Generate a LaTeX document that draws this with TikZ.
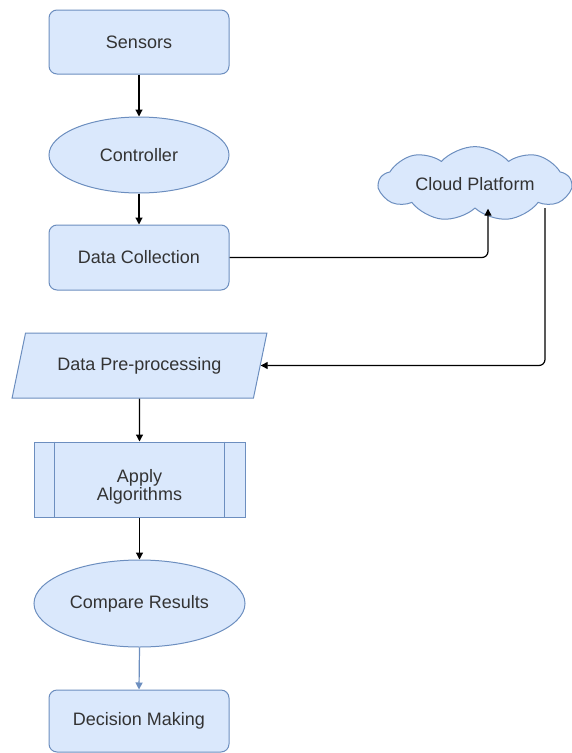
\documentclass[tikz,border=0pt]{standalone}
\usepackage{fontspec}
\setmainfont{Liberation Sans}
\usetikzlibrary{shapes.geometric,shapes.symbols,arrows.meta}
\definecolor{boxfill}{HTML}{DAE8FC}
\definecolor{boxline}{HTML}{6C8EBF}
\definecolor{txt}{HTML}{333333}
\begin{document}
\begin{tikzpicture}[x=1pt,y=-1pt,
  every node/.style={font=\fontsize{18}{21}\selectfont, text=txt, align=center},
  base/.style={draw=boxline, fill=boxfill, line width=1pt, inner sep=0pt},
  rbox/.style={base, rectangle, rounded corners=8pt, minimum width=180pt, minimum height=64pt},
  ell/.style={base, ellipse},
  arr/.style={-{Triangle[length=7pt,width=7pt]}, line width=1.2pt, black}
]
\useasboundingbox (0,0) rectangle (572,753);
\node[rbox] (sens) at (139,42) {Sensors};
\node[ell, minimum width=180pt, minimum height=76pt] (ctrl) at (139,155) {Controller};
\node[rbox, minimum height=65pt] (dc) at (139,257.5) {Data Collection};
\node[base, cloud, cloud puffs=9, cloud puff arc=95, aspect=3.2, minimum width=192pt, minimum height=62pt] (cloud) at (475,184) {Cloud Platform};
\node[base, trapezium, trapezium left angle=60, trapezium right angle=120, trapezium stretches=true, minimum width=255pt, minimum height=65pt] (pp) at (139.5,365.5) {Data Pre-processing};
\node[base, rectangle, minimum width=211pt, minimum height=75pt] (aa) at (139.5,479.5) {};
\node at (139.5,487) (aat) {Apply\\[-3pt]Algorithms};
\draw[boxline, line width=1pt] ([xshift=21pt]aa.north west) -- ([xshift=21pt]aa.south west);
\draw[boxline, line width=1pt] ([xshift=-21pt]aa.north east) -- ([xshift=-21pt]aa.south east);
\node[ell, minimum width=211pt, minimum height=87pt] (cmp) at (139.5,603.5) {Compare Results};
\node[rbox, minimum height=62pt] (dm) at (139,721) {Decision Making};

\draw[arr] (sens) -- (ctrl);
\draw[arr] (ctrl) -- (dc);
\draw[arr, rounded corners=6pt] (dc.east) -| ([xshift=13pt]cloud.south);
\coordinate (cs) at (545,208);
\draw[arr, rounded corners=6pt] (cs) |- (pp.east);
\draw[arr] (pp.south) -- (aa.north);
\draw[arr] (aa.south) -- (cmp.north);
\draw[-{Triangle[length=7pt,width=7pt]}, line width=1.2pt, boxline] (cmp.south) -- (dm.north);
\end{tikzpicture}
\end{document}
